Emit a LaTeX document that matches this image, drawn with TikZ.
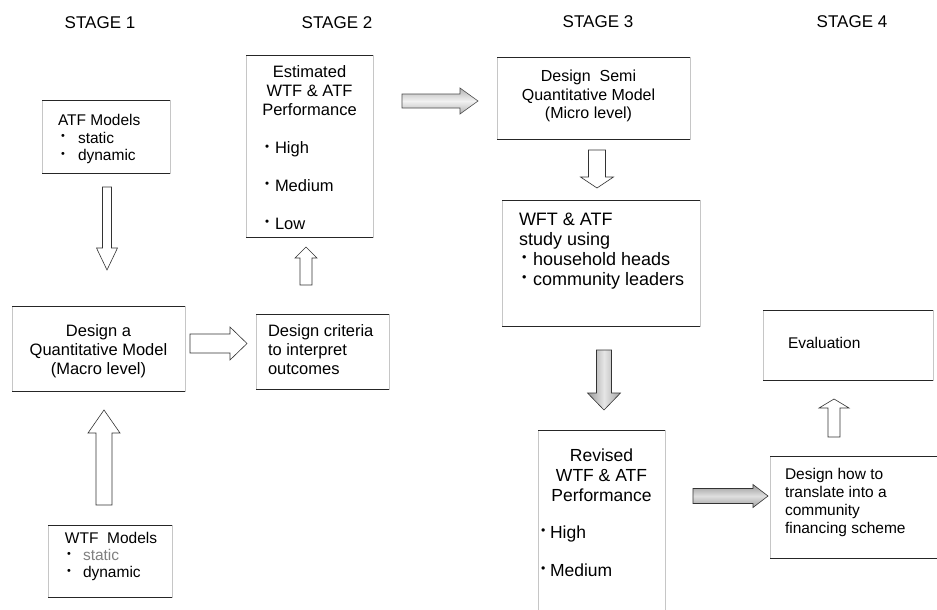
\documentclass[tikz,border=0pt]{standalone}
\usepackage{fontspec}
\setmainfont{Liberation Sans}
\usepackage{graphicx}
\usetikzlibrary{calc}

\newcommand{\bx}[4]{\parbox[c][#2pt][t]{#1pt}{\vspace*{#3pt}#4\par}}
\newcommand{\bul}{\raisebox{0.22em}{\scalebox{0.7}{•}}}
\newcommand{\bitem}[3]{\hspace*{#1pt}\makebox[#2pt][l]{\bul}#3}
\newcommand{\litem}[3]{\makebox[\linewidth][l]{\hspace*{#1pt}\makebox[#2pt][l]{\bul}#3}}
% block arrows: style, start, length, shaft half, head half, head length
\newcommand{\arrR}[6]{\path[#1] (#2) ++(0,-#4) -- ++(#3-#6,0) -- ++(0,#4-#5) -- ++(#6,#5) -- ++(-#6,#5) -- ++(0,#4-#5) -- ++(-#3+#6,0) -- cycle;}
\newcommand{\arrD}[6]{\path[#1] (#2) ++(-#4,0) -- ++(0,#3-#6) -- ++(#4-#5,0) -- ++(#5,#6) -- ++(#5,-#6) -- ++(#4-#5,0) -- ++(0,-#3+#6) -- cycle;}
\newcommand{\arrU}[6]{\path[#1] (#2) ++(-#4,0) -- ++(0,-#3+#6) -- ++(#4-#5,0) -- ++(#5,-#6) -- ++(#5,#6) -- ++(#4-#5,0) -- ++(0,#3-#6) -- cycle;}

\tikzset{
  box/.style={draw=gray!45, line width=0.5pt, inner sep=0pt, outer sep=0pt, anchor=north west},
  edge/.style={draw=black!85, line width=0.7pt},
  stagelbl/.style={font=\fontsize{17}{20}\selectfont, inner sep=0pt},
  hollow/.style={draw=black!80, line width=0.6pt, fill=white, line join=miter},
  shadeH/.style={draw=black!70, line width=0.6pt, top color=gray!60, bottom color=gray!60, middle color=gray!10},
  shadeHd/.style={draw=black!80, line width=0.6pt, top color=gray!80, bottom color=gray!75, middle color=gray!25},
  shadeVd/.style={draw=black!80, line width=0.6pt, left color=gray!80, right color=gray!70, middle color=gray!20},
}

\begin{document}
\begin{tikzpicture}[x=1pt, y=-1pt]
\useasboundingbox (0,0) rectangle (937,610);
\fill[white] (0,0) rectangle (937,610);
\clip (0,0) rectangle (937,610);

% stage labels
\node[stagelbl] (s1) at (100,23) {STAGE 1};
\node[stagelbl] (s2) at (337,23) {STAGE 2};
\node[stagelbl] (s3) at (598,22) {STAGE 3};
\node[stagelbl] (s4) at (852,22) {STAGE 4};

% boxes
\node[box] (atf) at (42,100) {\bx{128}{73}{14.3}{\fontsize{15.5}{17.5}\selectfont\raggedright\leftskip=16pt ATF Models\\ \bitem{3}{17}{static}\\ \bitem{3}{17}{dynamic}}};

\node[box] (est) at (246,55) {\bx{127}{182}{10.9}{\fontsize{16.5}{19}\selectfont\centering Estimated\\ WTF \& ATF\\ Performance\\[19pt] \litem{19}{10}{High}\\[18.5pt] \litem{19}{10}{Medium}\\[19pt] \litem{19}{10}{Low}}};

\node[box] (dq) at (12,306) {\bx{173}{85}{18.9}{\fontsize{16.5}{19}\selectfont\centering Design a\\ Quantitative Model\\ (Macro level)}};

\node[box] (dc) at (256,314) {\bx{133}{75}{10.9}{\fontsize{16.5}{19}\selectfont\raggedright\leftskip=12pt Design criteria\\ to interpret\\ outcomes}};

\node[box] (wtf) at (48,525) {\bx{124}{72}{7.3}{\fontsize{15.5}{17}\selectfont\raggedright\leftskip=17pt WTF\ \ Models\\ \bitem{2}{16}{\textcolor{gray}{static}}\\ \bitem{2}{16}{dynamic}}};

\node[box] (ds) at (497,57) {\bx{193}{82}{13.1}{\fontsize{16}{18.5}\selectfont\centering\rightskip=10pt plus 1fil Design\ \ Semi\\ Quantitative Model\\ (Micro level)}};

\node[box] (wft) at (502,200) {\bx{198}{126}{13.3}{\fontsize{18}{20}\selectfont\raggedright\leftskip=17pt WFT \& ATF\\ study using\\ \bitem{3}{11}{household heads}\\ \bitem{3}{11}{community leaders}}};

\node[box] (rv) at (538,430) {\bx{127}{210}{18.5}{\fontsize{17.5}{20}\selectfont\centering Revised\\ WTF \& ATF\\ Performance\\[17pt] \litem{3}{9}{High}\\[18pt] \litem{3}{9}{Medium}}};

\node[box] (ev) at (763,310) {\bx{170}{70}{27.3}{\fontsize{15.5}{18}\selectfont\raggedright\leftskip=25pt Evaluation}};

\node[box] (dh) at (770,456) {\bx{175}{102}{12.3}{\fontsize{15.5}{18}\selectfont\raggedright\leftskip=15pt Design how to\\ translate into a\\ community\\ financing scheme}};

% darker top and bottom edges
\foreach \n in {atf,est,dq,dc,wtf,ds,wft,rv,ev,dh}
  \draw[edge] (\n.north west) -- (\n.north east) (\n.south west) -- (\n.south east);

% block arrows
\arrD{hollow}{$(atf.south)+(1,14)$}{83}{4.5}{10.5}{22}
\arrU{hollow}{$(wtf.north)+(-6,-20)$}{95}{8}{16}{23}
\arrR{hollow}{$(dq.east)+(5,-5)$}{57}{9.5}{16.5}{17}
\arrU{hollow}{$(dc.north)+(-16.5,-29)$}{38}{6}{11}{11}
\arrR{shadeH}{$(est.east)+(29,-45)$}{76}{7}{13}{18}
\arrD{hollow}{$(ds.south)+(3.5,11)$}{38}{8.5}{16.5}{11}
\arrD{shadeVd}{$(wft.south)+(3,24)$}{60}{7.5}{16.5}{17}
\arrR{shadeHd}{$(rv.east)+(28,-39)$}{75}{7.5}{11.5}{15}
\arrU{hollow}{$(dh.north)+(-23.5,-19)$}{38}{6}{15}{9}
\end{tikzpicture}
\end{document}
